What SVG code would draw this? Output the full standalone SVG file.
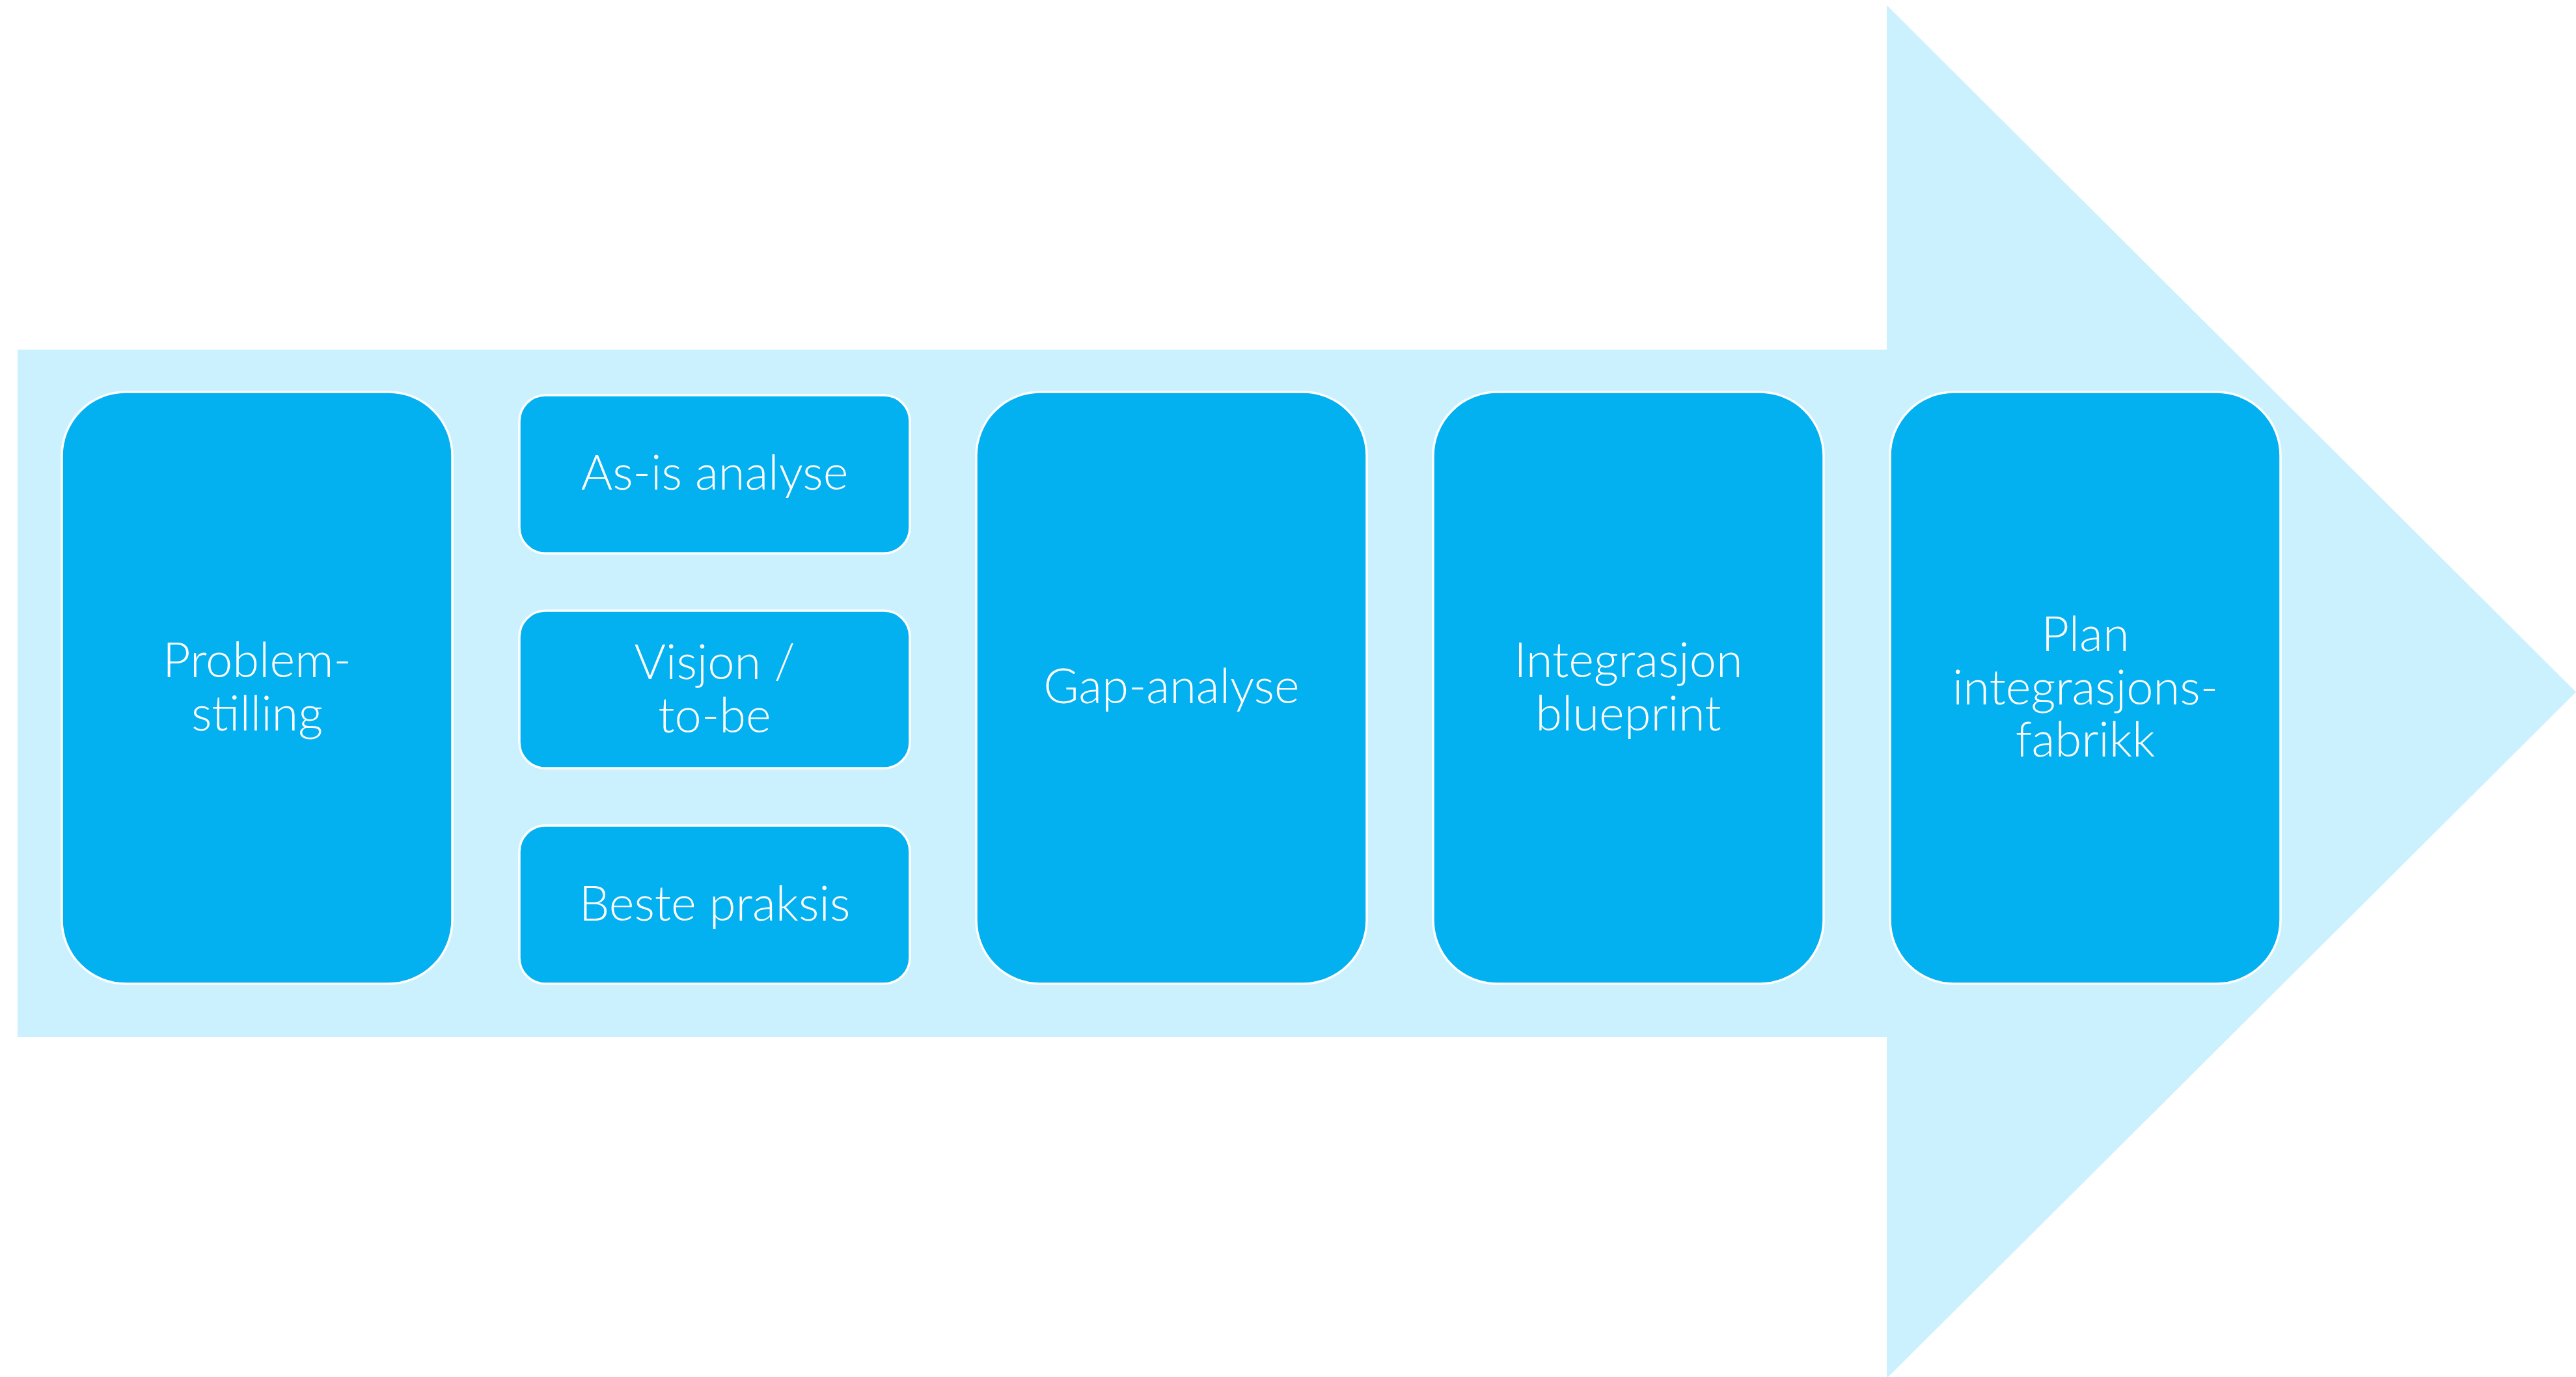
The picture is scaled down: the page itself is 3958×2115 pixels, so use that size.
<svg xmlns="http://www.w3.org/2000/svg" width="3958" height="2115" viewBox="0 0 3958 2115">
<style>
.bg{fill:#CBF0FE}
.box{fill:#03B0F0;stroke:#FFFFFF;stroke-width:3.5}
.t{font-family:Lato,"Open Sans","Liberation Sans",sans-serif;font-weight:300;font-size:74px;fill:#FFFFFF;text-anchor:middle}
</style>
<rect width="3958" height="2115" fill="#FFFFFF"/>
<g id="arrow">
<polygon class="bg" points="27,537 2899,537 2899,8 3958,1063 2899,2117 2899,1593 27,1593"/>
</g>
<g id="connectors"></g>
<g id="node-problemstilling">
<rect class="box" x="95" y="602" width="600" height="909" rx="98" ry="98"/>
<text class="t" x="395" y="1040">Problem-</text>
<text class="t" x="395" y="1122">stilling</text>
</g>
<g id="node-asis">
<rect class="box" x="798" y="607" width="600" height="243" rx="40" ry="40"/>
<text class="t" x="1098" y="752">As-is analyse</text>
</g>
<g id="node-visjon">
<rect class="box" x="798" y="938" width="600" height="242" rx="40" ry="40"/>
<text class="t" x="1098" y="1043">Visjon /</text>
<text class="t" x="1098" y="1125">to-be</text>
</g>
<g id="node-beste">
<rect class="box" x="798" y="1268" width="600" height="243" rx="40" ry="40"/>
<text class="t" x="1098" y="1414">Beste praksis</text>
</g>
<g id="node-gap">
<rect class="box" x="1500" y="602" width="600" height="909" rx="98" ry="98"/>
<text class="t" x="1800" y="1080">Gap-analyse</text>
</g>
<g id="node-blueprint">
<rect class="box" x="2202" y="602" width="600" height="909" rx="98" ry="98"/>
<text class="t" x="2502" y="1040">Integrasjon</text>
<text class="t" x="2502" y="1122">blueprint</text>
</g>
<g id="node-plan">
<rect class="box" x="2904" y="602" width="600" height="909" rx="98" ry="98"/>
<text class="t" x="3204" y="1000">Plan</text>
<text class="t" x="3204" y="1082">integrasjons-</text>
<text class="t" x="3204" y="1162">fabrikk</text>
</g>
</svg>
